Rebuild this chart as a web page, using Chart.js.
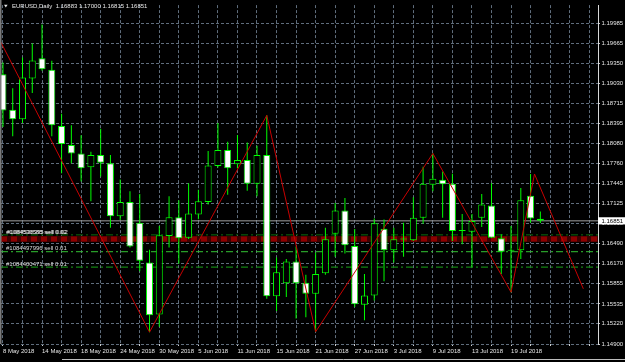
<!DOCTYPE html>
<html><head><meta charset="utf-8">
<script src="https://cdn.jsdelivr.net/npm/chart.js@4/dist/chart.umd.min.js"></script>
<style>html,body{margin:0;padding:0;background:#000;overflow:hidden}canvas{display:block}</style>
</head><body>
<canvas id="c" width="625" height="362"></canvas>
<script>
// ---------- data ----------
const symbol = 'EURUSD';
const timeframe = 'Daily';
const opens  = [1.19175,1.18610,1.18459,1.19108,1.19426,1.19244,1.18354,1.18051,1.17919,1.17699,
                1.17894,1.17762,1.16925,1.17150,1.16820,1.16192,1.15366,1.16611,1.16910,1.16585,
                1.16952,1.17150,1.17721,1.17972,1.17746,1.17815,1.17439,1.17894,1.15658,1.15862,
                1.16208,1.15869,1.15696,1.16019,1.16647,1.17015,1.16454,1.15523,1.15669,1.16726,
                1.16387,1.16556,1.16544,1.16899,1.17423,1.17502,1.17439,1.16706,1.16679,1.16899,
                1.17093,1.16575,1.16392,1.16387,1.17250,1.16883];
const highs  = [1.19359,1.18951,1.19437,1.19662,1.19960,1.19386,1.18547,1.18365,1.18208,1.17946,
                1.18312,1.17894,1.17506,1.17318,1.17275,1.16392,1.16768,1.17239,1.17177,1.17448,
                1.17345,1.17957,1.18401,1.18103,1.18213,1.18092,1.18040,1.18522,1.16271,1.16246,
                1.16443,1.15999,1.16349,1.16742,1.17134,1.17213,1.16721,1.16010,1.16889,1.16873,
                1.16742,1.16820,1.17224,1.17710,1.17919,1.17632,1.17596,1.16961,1.16961,1.17275,
                1.17448,1.16638,1.16768,1.17370,1.17593,1.17000];
const lows   = [1.18338,1.18192,1.18401,1.18877,1.19229,1.18192,1.17605,1.17762,1.17475,1.17161,
                1.17553,1.16742,1.16863,1.16428,1.16051,1.15088,1.15172,1.16428,1.16172,1.16564,
                1.16878,1.17109,1.17695,1.17266,1.17684,1.17329,1.17239,1.15618,1.15423,1.15643,
                1.15304,1.15324,1.15093,1.15999,1.16282,1.16333,1.15486,1.15277,1.15591,1.15894,
                1.16192,1.16282,1.16533,1.16804,1.17318,1.16899,1.16533,1.16481,1.16114,1.16753,
                1.16580,1.16010,1.15721,1.16246,1.16820,1.16815];
const closes = [1.18600,1.18459,1.19123,1.19390,1.19254,1.18365,1.18067,1.17919,1.17684,1.17894,
                1.17773,1.16925,1.17150,1.16443,1.16219,1.15355,1.16622,1.16910,1.16575,1.16968,
                1.17161,1.17726,1.17972,1.17684,1.17815,1.17439,1.17894,1.15658,1.16035,1.16208,
                1.15862,1.15696,1.16010,1.16560,1.17015,1.16465,1.15528,1.15669,1.16811,1.16387,
                1.16560,1.16572,1.16899,1.17439,1.17517,1.17432,1.16690,1.16690,1.16847,1.17109,
                1.16585,1.16360,1.16376,1.17177,1.16889,1.16851];
const dateLabels = ['8 May 2018','14 May 2018','18 May 2018','24 May 2018','30 May 2018','5 Jun 2018',
                    '11 Jun 2018','15 Jun 2018','21 Jun 2018','27 Jun 2018','3 Jul 2018','9 Jul 2018',
                    '13 Jul 2018','19 Jul 2018'];
const priceTicks = [1.14900,1.15220,1.15535,1.15855,1.16170,1.16490,1.16810,1.17125,1.17445,
                    1.17760,1.18080,1.18395,1.18715,1.19030,1.19350,1.19665,1.19985];
const zigzagBars   = [-1.5, 15, 27, 32, 44, 52, 54.4, 59.4];
const zigzagPrices = [1.20070, 1.15088, 1.18522, 1.15093, 1.17919, 1.15721, 1.17593, 1.15775];
const bidPrice = 1.16851;
const stopBandPrice = 1.16565;
const orderPrices = [1.16629, 1.16362, 1.16118];
const orderLabels = ['#1084536585 sell 0.02', '#1084497996 sell 0.01', '#1084400471 sell 0.01'];
const overlapLabel = '#1084538395 sell 0.02';

// ---------- view ----------
const X_MIN = -0.2, X_MAX = 60.9, Y_MIN = 1.14900, Y_MAX = 1.20269;
const LABEL_EVERY = 4, GRID_EVERY = 2;
const FONT = 'Liberation Sans';
const FS = 6;

const idx = opens.map((_, i) => i);
const wickData = idx.map(i => ({x: i, y: [lows[i], highs[i]]}));
const bodyData = idx.map(i => ({x: i, y: [opens[i], closes[i]]}));
const bodyFill = idx.map(i => closes[i] < opens[i] ? '#ffffff' : '#000000');
const hline = p => [{x: X_MIN, y: p}, {x: X_MAX, y: p}];
const zz = zigzagBars.map((b, i) => ({x: b, y: zigzagPrices[i]}));

const lineBase = {type: 'line', pointRadius: 0, fill: false, tension: 0};

const deco = {
  id: 'deco',
  afterDraw(chart) {
    const {ctx, chartArea: a, scales: {y}} = chart;
    ctx.save();
    ctx.font = FS + 'px "' + FONT + '"';
    ctx.textBaseline = 'middle'; ctx.textAlign = 'left';
    // left frame
    ctx.strokeStyle = '#7a7a7a'; ctx.lineWidth = 1.5;
    ctx.beginPath(); ctx.moveTo(0.75, 0); ctx.lineTo(0.75, a.bottom); ctx.stroke();
    // title
    ctx.fillStyle = '#e8e8e8';
    ctx.beginPath(); ctx.moveTo(4, 4.7); ctx.lineTo(7.6, 4.7); ctx.lineTo(5.8, 7.5); ctx.closePath(); ctx.fill();
    const L = opens.length - 1;
    const ohlc = [opens[L], highs[L], lows[L], closes[L]].map(v => v.toFixed(5)).join(' ');
    ctx.fillText(symbol + ',' + timeframe + '  ' + ohlc, 12, 6.2);
    // order labels
    ctx.fillStyle = '#dcdcdc';
    orderLabels.forEach((t, i) => ctx.fillText(t, 6, y.getPixelForValue(orderPrices[i]) - 3));
    ctx.fillText(overlapLabel, 7, y.getPixelForValue(orderPrices[0]) - 3);
    // bid box
    const by = y.getPixelForValue(bidPrice);
    ctx.fillStyle = '#ffffff';
    ctx.fillRect(a.right, by - 3.6, chart.width - a.right, 7.2);
    ctx.fillStyle = '#000000';
    ctx.fillText(bidPrice.toFixed(5), a.right + 3.5, by + 0.3);
    // bottom tab strip
    ctx.strokeStyle = '#bdbdbd'; ctx.lineWidth = 1;
    ctx.beginPath(); ctx.moveTo(62, 359.5); ctx.lineTo(chart.width, 359.5); ctx.stroke();
    ctx.restore();
  }
};

new Chart(document.getElementById('c'), {
  type: 'bar',
  data: {
    datasets: [
      {...lineBase, data: hline(stopBandPrice), borderColor: '#3e0000', borderWidth: 6, order: 30},
      {...lineBase, data: hline(stopBandPrice), borderColor: '#8c0000', borderWidth: 5, borderDash: [6, 4], order: 29},
      {...lineBase, data: hline(orderPrices[0]), borderColor: '#0d6d0d', borderWidth: 1, borderDash: [7, 3, 2, 3], order: 28},
      {...lineBase, data: hline(orderPrices[1]), borderColor: '#33c433', borderWidth: 1, borderDash: [7, 3, 2, 3], order: 27},
      {...lineBase, data: hline(orderPrices[2]), borderColor: '#128212', borderWidth: 1.3, borderDash: [7, 3, 2, 3], order: 26},
      {...lineBase, data: hline(bidPrice), borderColor: '#a0a0a0', borderWidth: 1, order: 25},
      {type: 'bar', data: wickData, backgroundColor: '#00ff00', borderWidth: 0, barThickness: 1,
       grouped: false, inflateAmount: 0, order: 10},
      {type: 'bar', data: bodyData, backgroundColor: bodyFill, borderColor: '#00ff00', borderWidth: 1,
       borderSkipped: false, barThickness: 7, grouped: false, inflateAmount: 0, order: 9},
      {...lineBase, data: zz, borderColor: '#c80000', borderWidth: 1, order: 1}
    ]
  },
  options: {
    responsive: false, animation: false, devicePixelRatio: 1,
    layout: {padding: {left: 1, top: 2, right: 0, bottom: 0}},
    plugins: {legend: {display: false}, tooltip: {enabled: false}, title: {display: false}},
    scales: {
      x: {
        type: 'linear', min: X_MIN, max: X_MAX, offset: false, bounds: 'data',
        afterBuildTicks: s => { const t = []; for (let v = 0; v <= X_MAX; v += GRID_EVERY) t.push({value: v}); s.ticks = t; },
        afterFit: s => { s.height = 18; },
        grid: {color: '#5f6d7c', lineWidth: 1, offset: false, drawTicks: true, tickLength: 2,
               tickColor: '#cfcfcf', tickBorderDash: []},
        border: {display: false, dash: [3, 2]},
        ticks: {autoSkip: false, maxRotation: 0, minRotation: 0, align: 'start', padding: 1.5,
                color: '#e6e6e6', font: {family: FONT, size: FS},
                callback: v => (v % LABEL_EVERY === 0 && dateLabels[v / LABEL_EVERY]) ? dateLabels[v / LABEL_EVERY] : ''}
      },
      y: {
        type: 'linear', position: 'right', min: Y_MIN, max: Y_MAX, bounds: 'data',
        afterBuildTicks: s => { s.ticks = priceTicks.map(v => ({value: v})); },
        afterFit: s => { s.width = 27; },
        grid: {color: '#5f6d7c', lineWidth: 1, drawTicks: true, tickLength: 2, tickColor: '#cfcfcf', tickBorderDash: []},
        border: {display: true, color: '#d8d8d8', width: 1, dash: [3, 2]},
        ticks: {autoSkip: false, padding: 1.5, color: '#e6e6e6', font: {family: FONT, size: FS},
                callback: v => Number(v).toFixed(5)}
      }
    }
  },
  plugins: [deco]
});
</script>
</body></html>
